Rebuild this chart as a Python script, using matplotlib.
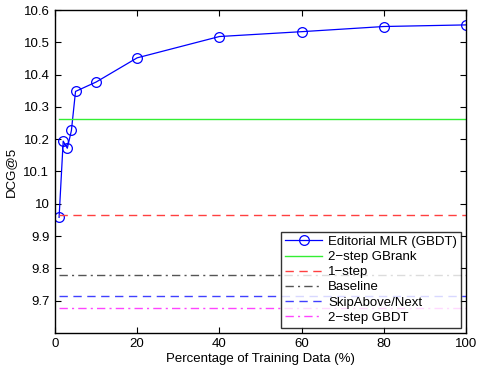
import matplotlib
matplotlib.use("Agg")
import matplotlib.pyplot as plt
import numpy as np

plt.rcParams['font.family'] = ['Liberation Sans', 'DejaVu Sans']

pct = [1, 2, 3, 4, 5, 10, 20, 40, 60, 80, 100]
editorial = [9.958, 10.194, 10.172, 10.227, 10.348, 10.377, 10.452, 10.518, 10.533, 10.549, 10.554]
span = [1, 100]
gbrank2 = 10.262
onestep = 9.965
baseline = 9.780
skipabove = 9.715
gbdt2 = 9.678

fig = plt.figure(figsize=(4.78, 3.72), dpi=100)
ax = fig.add_axes([0.115, 0.105, 0.86, 0.868])

ax.plot(pct, editorial, color='#0000ff', lw=0.9, marker='o', ms=7, mfc='none', mec='#0000ff', mew=0.9,
        label='Editorial MLR (GBDT)')
ax.plot(span, [gbrank2] * 2, color='#33ee33', lw=1.0, label='2\u2212step GBrank')
ax.plot(span, [onestep] * 2, color='#ff4040', lw=1.0, ls=(0, (6, 4)), label='1\u2212step')
ax.plot(span, [baseline] * 2, color='#555555', lw=1.0, ls=(0, (6, 3, 1.5, 3)), label='Baseline')
ax.plot(span, [skipabove] * 2, color='#4040ff', lw=1.0, ls=(0, (6, 4)), label='SkipAbove/Next')
ax.plot(span, [gbdt2] * 2, color='#ff44ff', lw=1.0, ls=(0, (6, 3, 1.5, 3)), label='2\u2212step GBDT')

ax.set_xlim(0, 100)
ax.set_ylim(9.6, 10.6)
ax.set_xticks([0, 20, 40, 60, 80, 100])
ax.set_yticks([9.7, 9.8, 9.9, 10.0, 10.1, 10.2, 10.3, 10.4, 10.5, 10.6])
ax.set_yticklabels(['9.7', '9.8', '9.9', '10', '10.1', '10.2', '10.3', '10.4', '10.5', '10.6'])
ax.tick_params(direction='in', top=True, right=True, labelsize=9.5, length=4, width=0.8, pad=4)
for s in ax.spines.values():
    s.set_linewidth(1.0)

ax.set_xlabel('Percentage of Training Data (%)', fontsize=9.5, labelpad=2)
ax.set_ylabel('DCG@5', fontsize=9.5, labelpad=5)

leg = ax.legend(loc='lower right', fontsize=9.5, frameon=True, fancybox=False, edgecolor='black',
                borderaxespad=0.4, handlelength=2.8, labelspacing=0.22, borderpad=0.3, handletextpad=0.45)
leg.get_frame().set_linewidth(1.0)

fig.savefig('out.png', dpi=100)
